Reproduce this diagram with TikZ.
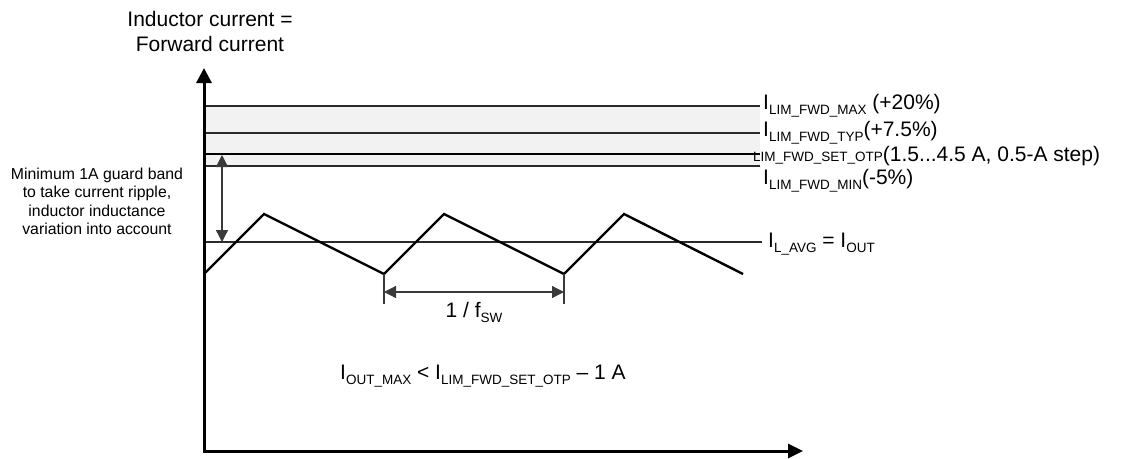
\documentclass[tikz,border=0pt]{standalone}
\usepackage{fontspec}
\setmainfont{Liberation Sans}
\usetikzlibrary{arrows.meta}
\definecolor{bandfill}{HTML}{F2F2F2}
\definecolor{thinline}{HTML}{2A2A2A}
\definecolor{dimline}{HTML}{3A3A3A}
\newcommand\sbt[1]{\raisebox{-5pt}{\fontsize{13.5}{14}\selectfont #1}}
\begin{document}
\begin{tikzpicture}[x=1pt,y=-1pt,
  lbl/.style={inner sep=0pt, font=\fontsize{21}{25}\selectfont},
  small/.style={inner sep=0pt, align=center, font=\fontsize{15.8}{18.3}\selectfont},
  level/.style={draw=thinline, line width=1.1pt},
  setlevel/.style={draw=black, line width=2.2pt},
  axisline/.style={line width=3pt, line join=miter,
     {Triangle[width=15pt,length=15pt]}-{Triangle[width=14pt,length=15pt]}},
  wave/.style={line width=2.4pt, line join=miter},
  dimarrow/.style={draw=dimline, line width=1.3pt,
     {Triangle[width=12pt,length=12pt]}-{Triangle[width=12pt,length=12pt]}},
  tick/.style={draw=dimline, line width=1.5pt}]
\useasboundingbox (0,0) rectangle (1124,458);
% band
\fill[bandfill] (204,106) rectangle (760,166);
% level lines
\coordinate (maxL) at (204,106); \coordinate (maxR) at (760,106);
\coordinate (typL) at (204,133); \coordinate (typR) at (760,133);
\coordinate (setL) at (204,154); \coordinate (setR) at (760,154);
\coordinate (minL) at (204,166); \coordinate (minR) at (760,166);
\coordinate (avgL) at (204,242); \coordinate (avgR) at (762,242);
\draw[level] (maxL) -- (maxR);
\draw[level] (typL) -- (typR);
\draw[level] (minL) -- (minR);
\draw[setlevel] (setL) -- (setR);
\draw[level] (avgL) -- (avgR);
% axes
\coordinate (o) at (204,451);
\coordinate (ytip) at (204,68);
\coordinate (xtip) at (803,451);
\draw[axisline] (ytip) -- (o) -- (xtip);
% triangle wave
\coordinate (w0) at (204,274);
\coordinate (p1) at (264,214);
\coordinate (v1) at (384,274);
\coordinate (p2) at (444,214);
\coordinate (v2) at (564,274);
\coordinate (p3) at (624,214);
\coordinate (w1) at (743,274);
\draw[wave] (w0) -- (p1) -- (v1) -- (p2) -- (v2) -- (p3) -- (w1);
% period dimension
\coordinate (t1) at (384,304);
\coordinate (t2) at (564,304);
\coordinate (d1) at (384,292);
\coordinate (d2) at (564,292);
\draw[tick] (v1) -- (t1);
\draw[tick] (v2) -- (t2);
\draw[dimarrow] (d1) -- (d2);
\node[lbl, anchor=base] (per) at (474,317) {1 / f\sbt{SW}};
% guard band arrow
\coordinate (g1) at (222,155);
\coordinate (g2) at (222,242);
\draw[dimarrow] (g1) -- (g2);
\node[small, anchor=north] (guard) at (97,168) {Minimum 1A guard band\\to take current ripple,\\inductor inductance\\variation into account};
% title
\node[lbl, align=center, anchor=north] (title) at (210,11) {Inductor current =\\Forward current};
% labels
\node[lbl, anchor=base west] (lmax) at (763,109) {I\sbt{LIM\_FWD\_MAX} (+20\%)};
\node[lbl, anchor=base west] (ltyp) at (763,136) {I\sbt{LIM\_FWD\_TYP}(+7.5\%)};
\node[lbl, anchor=base west] (lset) at (753,161) {{\fontsize{13.5}{14}\selectfont LIM\_FWD\_SET\_OTP}(1.5...4.5 A, 0.5-A step)};
\node[lbl, anchor=base west] (lmin) at (763,184) {I\sbt{LIM\_FWD\_MIN}(-5\%)};
\node[lbl, anchor=base west] (lavg) at (768,247) {I\sbt{L\_AVG} = I\sbt{OUT}};
\node[lbl, anchor=base west] (cond) at (340,379) {I\sbt{OUT\_MAX} < I\sbt{LIM\_FWD\_SET\_OTP} – 1 A};
\end{tikzpicture}
\end{document}
